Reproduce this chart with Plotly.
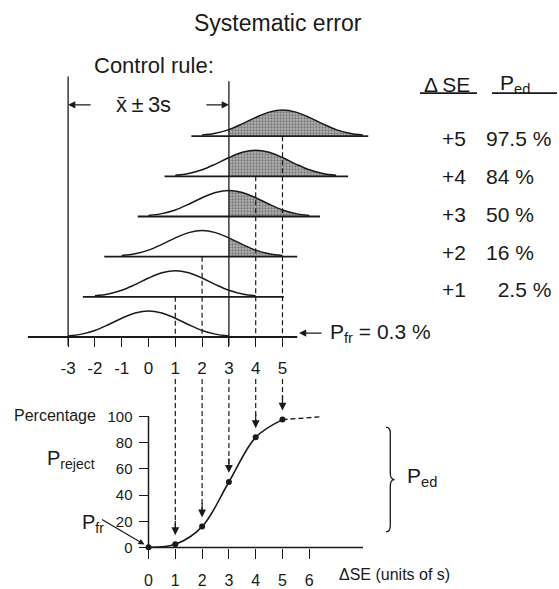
import plotly.graph_objects as go

# ---------------- data ----------------
se_shifts = [0, 1, 2, 3, 4, 5]                 # systematic error, units of s
p_ed = [0.3, 2.5, 16, 50, 84, 97.5]            # % rejection (P_fr at 0, P_ed otherwise)
control_limits = [-3, 3]                       # x-bar +/- 3s
top_ticks = [-3, -2, -1, 0, 1, 2, 3, 4, 5]
bottom_xticks = [0, 1, 2, 3, 4, 5, 6]
bottom_yticks = [0, 20, 40, 60, 80, 100]
# distribution profile (offset from mean, relative height)
profile_offsets = [-3.0, -2.5, -2.0, -1.5, -1.0, -0.5, 0.0, 0.5, 1.0, 1.5, 2.0, 2.5, 3.0]
profile_heights = [0.04, 0.11, 0.25, 0.47, 0.72, 0.92, 1.0, 0.92, 0.72, 0.47, 0.25, 0.11, 0.04]
baseline_left = [-4.5, -2.45, -1.65, -0.4, 0.6, 1.6]
baseline_right = [5.55, 5.05, 5.55, 6.4, 7.45, 8.2]
tail_value = 99.6                                # dashed continuation beyond +5
table_rows_se = ["+5", "+4", "+3", "+2", "+1"]

# ---------------- geometry (pixels) ----------------
W, H = 559, 589
X0, XS = 148.5, 26.8          # x = 0 pixel, pixels per unit s
Y0, YS = 344.0, 41.0          # top panel: level 0 baseline pixel, pixels per level
P0, PS = 559.0, 1.34          # bottom panel: 0 % pixel, pixels per %
PEAK = 0.65                   # curve height in level units

def xp(px):
    return px / W

def yp(py):
    return 1 - py / H

def lvl(py):
    return (Y0 - py) / YS

def pct(py):
    return (P0 - py) / PS

FONT = "Liberation Sans, Arial, Helvetica, sans-serif"
BLACK = "#1a1a1a"

fig = go.Figure()

# ---------- top panel: shifted distributions ----------
for k, se in enumerate(se_shifts):
    xs = [se + o for o in profile_offsets]
    ys = [k + PEAK * h for h in profile_heights]
    # shaded part beyond the upper control limit
    sel = [i for i, x in enumerate(xs) if x >= control_limits[1]]
    if p_ed[k] > 5 and len(sel) > 1:
        fx = [xs[i] for i in sel]
        fy = [ys[i] for i in sel]
        fig.add_trace(go.Scatter(x=fx, y=[k] * len(fx), mode="lines",
                                 line=dict(width=0, color="rgba(0,0,0,0)"),
                                 hoverinfo="skip", showlegend=False))
        fig.add_trace(go.Scatter(x=fx, y=fy, mode="lines", fill="tonexty",
                                 line=dict(width=0, shape="spline", color="rgba(0,0,0,0)"),
                                 fillcolor="#aaaaaa",
                                 fillpattern=dict(shape=".", fgcolor="#3a3a3a",
                                                  bgcolor="#b4b4b4", size=3, solidity=0.45),
                                 hoverinfo="skip", showlegend=False))
    # baseline
    fig.add_trace(go.Scatter(x=[baseline_left[k], baseline_right[k]], y=[k, k], mode="lines",
                             line=dict(color=BLACK, width=1.8),
                             hoverinfo="skip", showlegend=False))
    # curve
    fig.add_trace(go.Scatter(x=xs, y=ys, mode="lines",
                             line=dict(color=BLACK, width=1.5, shape="spline"),
                             hoverinfo="skip", showlegend=False))

# control limit lines
for cl, top in zip(control_limits, [lvl(78), lvl(83)]):
    fig.add_trace(go.Scatter(x=[cl, cl], y=[top, lvl(353)], mode="lines",
                             line=dict(color=BLACK, width=1.3),
                             hoverinfo="skip", showlegend=False))

# dashed projections in top panel
for k, se in enumerate(se_shifts):
    if se > 0 and se != control_limits[1]:
        fig.add_trace(go.Scatter(x=[se, se], y=[k, 0], mode="lines",
                                 line=dict(color=BLACK, width=1.2, dash="5px,3px"),
                                 hoverinfo="skip", showlegend=False))

# ---------- bottom panel: power curve ----------
# dashed projections down to the curve
for se, v in zip(se_shifts, p_ed):
    if se > 0:
        fig.add_trace(go.Scatter(x=[se, se], y=[pct(387), v + 10], mode="lines",
                                 line=dict(color=BLACK, width=1.2, dash="5px,3px"),
                                 yaxis="y2", hoverinfo="skip", showlegend=False))

# axes lines
fig.add_trace(go.Scatter(x=[0, 0], y=[0, 100], mode="lines", yaxis="y2",
                         line=dict(color=BLACK, width=1.5), hoverinfo="skip", showlegend=False))
fig.add_trace(go.Scatter(x=[0, (363 - X0) / XS], y=[0, 0], mode="lines", yaxis="y2",
                         line=dict(color=BLACK, width=1.5), hoverinfo="skip", showlegend=False))

# curve and points
fig.add_trace(go.Scatter(x=se_shifts, y=p_ed, mode="lines+markers", yaxis="y2",
                         line=dict(color=BLACK, width=1.6, shape="spline", smoothing=1.0),
                         marker=dict(color=BLACK, size=6),
                         hoverinfo="skip", showlegend=False))
fig.add_trace(go.Scatter(x=[se_shifts[-1], 6.4], y=[p_ed[-1], tail_value], mode="lines",
                         yaxis="y2", line=dict(color=BLACK, width=1.4, dash="5px,3px"),
                         hoverinfo="skip", showlegend=False))

# dummy trace so the lower x axis is rendered
fig.add_trace(go.Scatter(x=[0], y=[0], xaxis="x2", yaxis="y2", mode="markers",
                         marker=dict(opacity=0), hoverinfo="skip", showlegend=False))

ann = []

def text(x, y, s, size, xanchor="center", xref="paper", yref="paper", yanchor="middle"):
    ann.append(dict(x=x, y=y, xref=xref, yref=yref, text=s, showarrow=False,
                    xanchor=xanchor, yanchor=yanchor,
                    font=dict(family=FONT, size=size, color=BLACK)))

def arrow(x, y, ax, ay, yref="y", width=1.2, size=1.0):
    ann.append(dict(x=x, y=y, xref="x", yref=yref, ax=ax, ay=ay, text="",
                    showarrow=True, arrowhead=2, arrowsize=size, arrowwidth=width,
                    arrowcolor=BLACK))

# arrowheads on dashed projections
for se, v in zip(se_shifts, p_ed):
    if se > 0:
        arrow(se, v + 7, 0, -16, yref="y2", size=1.3)

# texts
text(xp(278), yp(23), "Systematic error", 23)
text(xp(92), yp(67), "Control rule:", 22, xanchor="left")
text(xp(143), yp(107), "x\u0304\u2009\u00b1\u20093s", 22)
arrow(control_limits[0], lvl(107), 24, 0, size=1.2)
arrow(control_limits[1], lvl(107), -24, 0, size=1.2)

# table
text(xp(447), yp(86), "\u0394\u2009SE", 21)
text(xp(515), yp(86), "P<sub>ed</sub>", 21)
ann_lines = [(420, 477), (492, 557)]
row_y = [141, 180, 219, 258, 296]
for lab, val, ry in zip(table_rows_se, p_ed[:0:-1], row_y):
    text(xp(468), yp(ry), lab, 21, xanchor="right")
    ip = str(int(val))
    s = ("\u2007" * (2 - len(ip))) + (f"{val:g}") + " %"
    text(xp(484), yp(ry), s, 21, xanchor="left")

# P_fr top
text(xp(328), yp(340), "P<sub>fr</sub> = " + f"{p_ed[0]:g}" + " %", 21, xanchor="left")
arrow((299 - X0) / XS, lvl(340), 24, 0, size=1.2)

# bottom labels
text(xp(12), yp(424), "Percentage", 16, xanchor="left")
text(xp(45), yp(469), "P<sub>reject</sub>", 20, xanchor="left")
text(xp(80), yp(534), "P<sub>fr</sub>", 20, xanchor="left")
arrow(-0.15, p_ed[0] + 2, -44, -26, yref="y2", width=1.2)
text(xp(405), yp(487), "P<sub>ed</sub>", 21, xanchor="left")
text(xp(337), yp(586), "\u0394SE (units of s)", 16, xanchor="left")

# brace spanning the P_ed range
bx, w, d = (386 - X0) / XS, 0.16, 5.0
yt, yb = pct(436), pct(543)
ym = (yt + yb) / 2
brace = (f"M {bx},{yt} Q {bx + w},{yt} {bx + w},{yt - d} L {bx + w},{ym + d} "
         f"Q {bx + w},{ym} {bx + 2 * w},{ym} Q {bx + w},{ym} {bx + w},{ym - d} "
         f"L {bx + w},{yb + d} Q {bx + w},{yb} {bx},{yb}")
shapes = [dict(type="path", xref="x", yref="y2", path=brace,
               line=dict(color=BLACK, width=1.3))]
for a, b in ann_lines:
    shapes.append(dict(type="line", xref="paper", yref="paper", x0=xp(a), x1=xp(b),
                       y0=yp(95), y1=yp(95), line=dict(color=BLACK, width=1.8)))

xr = [-X0 / XS, (W - X0) / XS]
fig.update_layout(
    width=W, height=H, margin=dict(l=0, r=0, t=0, b=0),
    paper_bgcolor="white", plot_bgcolor="white", showlegend=False,
    annotations=ann, shapes=shapes,
    xaxis=dict(domain=[0, 1], range=xr, anchor="free", position=yp(Y0),
               showgrid=False, zeroline=False, showline=False,
               ticks="outside", ticklen=9, tickwidth=1.3, tickcolor=BLACK,
               tickvals=top_ticks, ticktext=[str(t) for t in top_ticks],
               tickfont=dict(family=FONT, size=17, color=BLACK), ticklabelstandoff=7),
    xaxis2=dict(overlaying="x", range=xr, anchor="free", position=yp(P0),
                showgrid=False, zeroline=False, showline=False,
                ticks="outside", ticklen=10, tickwidth=1.3, tickcolor=BLACK,
                tickvals=bottom_xticks, ticktext=[str(t) for t in bottom_xticks],
                tickfont=dict(family=FONT, size=16, color=BLACK), ticklabelstandoff=8),
    yaxis=dict(domain=[0, 1], range=[(Y0 - H) / YS, Y0 / YS], visible=False),
    yaxis2=dict(overlaying="y", range=[(P0 - H) / PS, P0 / PS], anchor="free",
                position=xp(X0), side="left",
                showgrid=False, zeroline=False, showline=False,
                ticks="outside", ticklen=10, tickwidth=1.3, tickcolor=BLACK,
                tickvals=bottom_yticks, ticktext=[str(t) for t in bottom_yticks],
                tickfont=dict(family=FONT, size=15, color=BLACK), ticklabelstandoff=3),
)

fig.write_html("out.html", config={"displayModeBar": False},
               post_script="document.body.style.margin='0';document.body.style.overflow='hidden';")
